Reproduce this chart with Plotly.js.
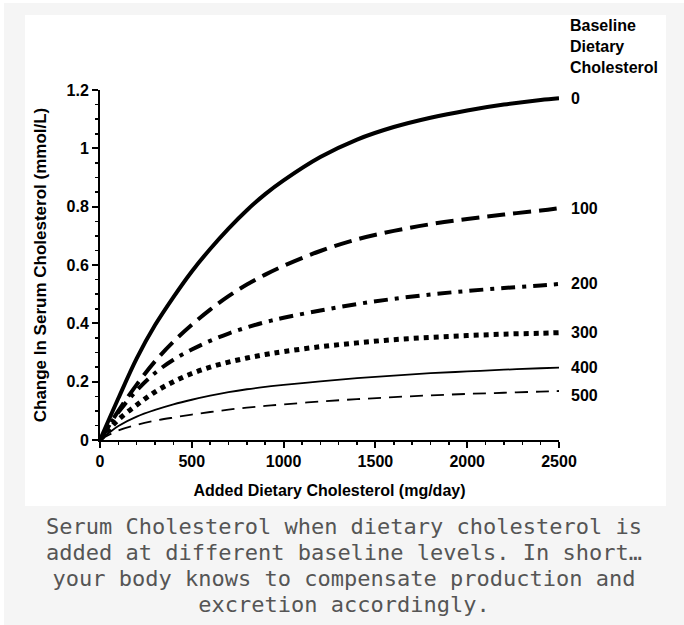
<!DOCTYPE html>
<html>
<head>
<meta charset="utf-8">
<script src="https://cdn.plot.ly/plotly-3.0.1.min.js"></script>
<style>
  html, body { margin: 0; padding: 0; background: #ffffff; }
  #frame { position: absolute; left: 4px; top: 3px; width: 680px; height: 622px; background: #f5f5f5; }
  #chart { position: absolute; left: 25px; top: 15px; width: 641px; height: 491px; background: #ffffff; }
  #caption { position: absolute; left: 4px; top: 514px; width: 680px; text-align: center;
             font-family: 'DejaVu Sans Mono', monospace; font-size: 22px; line-height: 26px; color: #555555; }
</style>
</head>
<body>
<div id="frame"></div>
<div id="chart"></div>
<div id="caption">Serum Cholesterol when dietary cholesterol is<br>added at different baseline levels. In short…<br>your body knows to compensate production and<br>excretion accordingly.</div>
<script>
// Added dietary cholesterol (mg/day)
const addedChol = [0, 50, 100, 200, 300, 400, 500, 600, 700, 800, 900, 1000, 1200, 1400, 1600, 1800, 2000, 2200, 2400, 2500];

// Change in serum cholesterol (mmol/L) by baseline dietary cholesterol
const base0   = [0, 0.072, 0.143, 0.28, 0.394, 0.49, 0.578, 0.655, 0.725, 0.788, 0.843, 0.89, 0.97, 1.03, 1.073, 1.105, 1.13, 1.15, 1.166, 1.172];
const base100 = [0, 0.05, 0.10, 0.19, 0.27, 0.337, 0.395, 0.447, 0.493, 0.533, 0.567, 0.597, 0.648, 0.688, 0.717, 0.74, 0.758, 0.773, 0.787, 0.795];
const base200 = [0, 0.049, 0.095, 0.17, 0.23, 0.275, 0.31, 0.34, 0.365, 0.386, 0.404, 0.419, 0.444, 0.466, 0.484, 0.499, 0.511, 0.521, 0.53, 0.535];
const base300 = [0, 0.036, 0.07, 0.12, 0.165, 0.20, 0.228, 0.25, 0.267, 0.281, 0.293, 0.303, 0.32, 0.333, 0.344, 0.352, 0.358, 0.363, 0.366, 0.368];
const base400 = [0, 0.025, 0.048, 0.08, 0.103, 0.122, 0.138, 0.152, 0.164, 0.174, 0.182, 0.189, 0.201, 0.212, 0.221, 0.229, 0.235, 0.241, 0.246, 0.248];
const base500 = [0, 0.018, 0.033, 0.052, 0.066, 0.077, 0.087, 0.096, 0.104, 0.111, 0.117, 0.122, 0.132, 0.14, 0.147, 0.153, 0.158, 0.162, 0.166, 0.168];

const seriesLabels = ['0', '100', '200', '300', '400', '500'];
const headerLabel = 'Baseline<br>Dietary<br>Cholesterol';
const xTitle = 'Added Dietary Cholesterol (mg/day)';
const yTitle = 'Change In Serum Cholesterol (mmol/L)';

const allSeries = [base0, base100, base200, base300, base400, base500];
const styles = [
  { width: 4, dash: 'solid' },
  { width: 4, dash: '18px,8px' },
  { width: 4, dash: '14px,7px,4px,7px' },
  { width: 5, dash: '5px,5px' },
  { width: 1.8, dash: 'solid' },
  { width: 1.8, dash: '13px,8px' }
];
const labelShift = [0, 0, 0, 0, 0, -4];

const fontFam = 'Liberation Sans, Arial, sans-serif';

const traces = allSeries.map((ys, i) => ({
  x: addedChol,
  y: ys,
  type: 'scatter',
  mode: 'lines',
  name: seriesLabels[i],
  line: { color: '#000000', width: styles[i].width, dash: styles[i].dash, shape: 'spline', smoothing: 1 },
  showlegend: false,
  hoverinfo: 'skip'
}));

const annotations = allSeries.map((ys, i) => ({
  xref: 'paper', yref: 'y',
  x: 1.022, y: ys[ys.length - 1],
  xanchor: 'left', yanchor: 'middle',
  yshift: labelShift[i],
  text: seriesLabels[i],
  showarrow: false,
  font: { family: fontFam, size: 16, color: '#000000', weight: 'bold' }
}));
annotations.push({
  xref: 'paper', yref: 'paper',
  x: 1.02, y: 1.214,
  xanchor: 'left', yanchor: 'top', align: 'left',
  text: headerLabel,
  showarrow: false,
  font: { family: fontFam, size: 16, color: '#000000', weight: 'bold' }
});

const tickFont = { family: fontFam, size: 16, color: '#000000', weight: 'bold' };

const layout = {
  width: 641, height: 491,
  margin: { l: 75, r: 107, t: 75, b: 66 },
  paper_bgcolor: '#ffffff',
  plot_bgcolor: '#ffffff',
  xaxis: {
    range: [0, 2500], tick0: 0, dtick: 500,
    showline: true, linecolor: '#000000', linewidth: 2,
    ticks: 'outside', ticklen: 6, tickwidth: 2, tickcolor: '#000000',
    showgrid: false, zeroline: false,
    tickfont: tickFont,
    minor: { dtick: 100, ticks: 'outside', ticklen: 3, tickwidth: 1.5, tickcolor: '#000000', showgrid: false },
    title: { text: xTitle, font: { family: fontFam, size: 16, color: '#000000', weight: 'bold' }, standoff: 16 },
    automargin: false
  },
  yaxis: {
    range: [0, 1.2], tick0: 0, dtick: 0.2,
    showline: true, linecolor: '#000000', linewidth: 2,
    ticks: 'outside', ticklen: 6, tickwidth: 2, tickcolor: '#000000',
    showgrid: false, zeroline: false,
    tickfont: tickFont,
    minor: { dtick: 0.05, ticks: 'outside', ticklen: 3, tickwidth: 1.5, tickcolor: '#000000', showgrid: false },
    title: { text: yTitle, font: { family: fontFam, size: 17, color: '#000000', weight: 'bold' }, standoff: 16 },
    automargin: false
  },
  annotations: annotations
};

Plotly.newPlot('chart', traces, layout, { displayModeBar: false, staticPlot: true });
</script>
</body>
</html>
